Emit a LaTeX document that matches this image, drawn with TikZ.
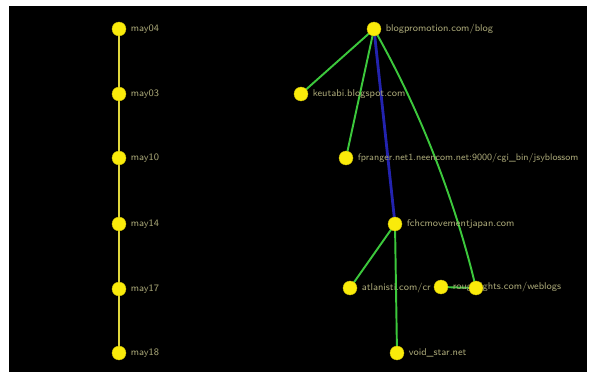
\documentclass[tikz,border=0pt]{standalone}
\usepackage{tikz}
\usetikzlibrary{positioning}
\definecolor{vnode}{RGB}{250,235,10}
\definecolor{vlink}{RGB}{225,215,60}
\definecolor{vgreen}{RGB}{60,200,60}
\definecolor{vblue}{RGB}{35,35,175}
\definecolor{vtext}{RGB}{170,168,120}

\begin{document}
\begin{tikzpicture}[x=0.02cm,y=-0.02cm,
  vert/.style={circle,fill=vnode,draw=vnode!80!black,line width=0.2pt,minimum size=0.28cm,inner sep=0pt},
  lab/.style={text=vtext,font=\sffamily\fontsize{5.6}{6.5}\selectfont,inner sep=1pt,label distance=0.05cm},
  tl/.style={vlink,line width=1.1pt},
  gl/.style={vgreen,line width=1.1pt},
  bl/.style={vblue,line width=1.6pt}]
  \useasboundingbox (0,0) rectangle (589,372);
  \fill[black] (9,6) rectangle (587,372);
  \begin{scope}
  \clip (9,6) rectangle (587,372);
  % date chain
  \foreach \n/\y in {1/29,2/94,3/158,4/224,5/289,6/353}
    \coordinate (c\n) at (119,\y);
  \foreach \a/\b in {1/2,2/3,3/4,4/5,5/6}
    \draw[tl] (c\a) -- (c\b);
  \foreach \n/\t in {1/may04,2/may03,3/may10,4/may14,5/may17,6/may18}
    \node[vert,label={[lab]right:\t}] (m\n) at (c\n) {};
  % link tree
  \coordinate (blog) at (374,29);
  \coordinate (keu) at (301,94);
  \coordinate (fpr) at (346,158);
  \coordinate (fch) at (395,224);
  \coordinate (atl) at (350,288);
  \coordinate (rgh) at (441,287);
  \coordinate (dlt) at (476,288);
  \coordinate (vst) at (397,353);
  \draw[gl] (blog) -- (keu);
  \draw[gl] (blog) -- (fpr);
  \draw[gl] (blog) .. controls (420,110) and (455,200) .. (dlt);
  \draw[bl] (blog) -- (fch);
  \draw[gl] (fch) -- (atl);
  \draw[gl] (fch) -- (vst);
  \draw[gl] (rgh) -- (dlt);
  \node[vert,label={[lab]right:blogpromotion.com/blog}] (nblog) at (blog) {};
  \node[vert,label={[lab]right:keutabi.blogspot.com}] (nkeu) at (keu) {};
  \node[vert,label={[lab,font=\sffamily\fontsize{5.4}{6.5}\selectfont]right:fpranger.net1.neencom.net:9000/cgi\_bin/jsyblossom}] (nfpr) at (fpr) {};
  \node[vert,label={[lab]right:fchcmovementjapan.com}] (nfch) at (fch) {};
  \node[vert,label={[lab]right:atlanisti.com/cr}] (natl) at (atl) {};
  \node[vert,label={[lab]right:roughlights.com/weblogs}] (nrgh) at (rgh) {};
  \node[vert] (ndlt) at (dlt) {};
  \node[vert,label={[lab]right:void\_star.net}] (nvst) at (vst) {};
  \end{scope}
\end{tikzpicture}
\end{document}
